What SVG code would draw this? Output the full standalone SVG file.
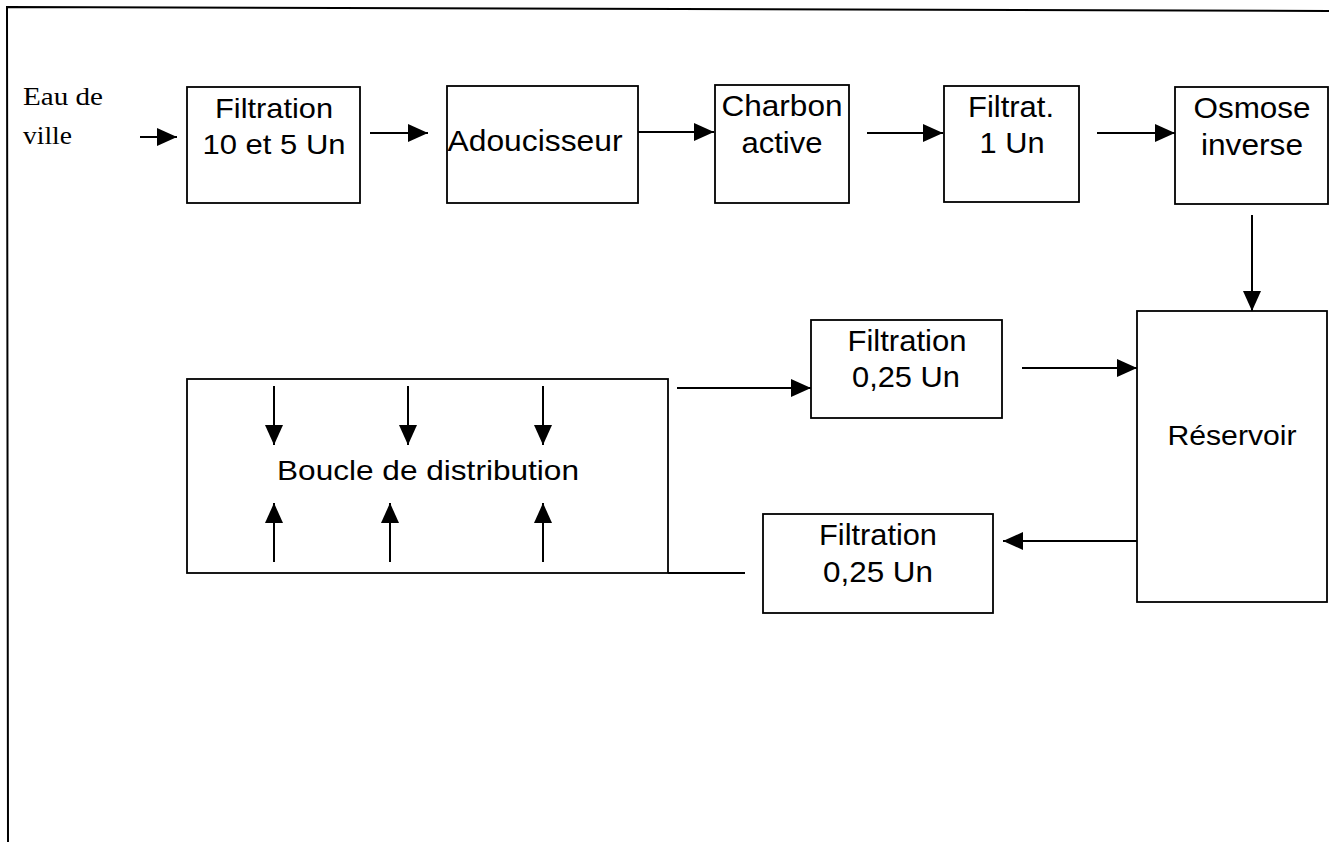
<svg xmlns="http://www.w3.org/2000/svg" width="1329" height="842" viewBox="0 0 1329 842">
<defs>
<style>
.box{fill:#fff;stroke:#000;stroke-width:1.8}
.t{font-family:"Liberation Sans",Arial,sans-serif;font-size:30px;fill:#000;text-anchor:middle}
.s{font-family:"Liberation Serif","Times New Roman",serif;font-size:25px;fill:#000}
.c{stroke:#000;stroke-width:2;fill:none}
.a{marker-end:url(#ah)}
</style>
<marker id="ah" viewBox="0 0 20 18" refX="20" refY="9" markerWidth="20" markerHeight="18" markerUnits="userSpaceOnUse" orient="auto">
<path d="M0,0 L20,9 L0,18 z" fill="#000"/>
</marker>
</defs>
<rect width="1329" height="842" fill="#fff"/>
<polyline id="frame" points="8,842 7,7 1329,11" fill="none" stroke="#000" stroke-width="2"/>

<g id="source">
<text class="s" x="23" y="105" textLength="80" lengthAdjust="spacingAndGlyphs">Eau de</text>
<text class="s" x="23" y="144" textLength="49" lengthAdjust="spacingAndGlyphs">ville</text>
</g>

<g id="filtration-10-5">
<rect class="box" x="187" y="87" width="173" height="116"/>
<text class="t" style="font-size:28px" x="274" y="118" textLength="118" lengthAdjust="spacingAndGlyphs">Filtration</text>
<text class="t" style="font-size:28px" x="274" y="154" textLength="143" lengthAdjust="spacingAndGlyphs">10 et 5 Un</text>
</g>

<g id="adoucisseur">
<rect class="box" x="447" y="86" width="191" height="117"/>
<text class="t" x="535" y="151" textLength="175" lengthAdjust="spacingAndGlyphs">Adoucisseur</text>
</g>

<g id="charbon">
<rect class="box" x="715" y="85" width="134" height="118"/>
<text class="t" x="782" y="116" textLength="121" lengthAdjust="spacingAndGlyphs">Charbon</text>
<text class="t" x="782" y="153" textLength="81" lengthAdjust="spacingAndGlyphs">active</text>
</g>

<g id="filtrat-1">
<rect class="box" x="944" y="86" width="135" height="116"/>
<text class="t" x="1011" y="117" textLength="86" lengthAdjust="spacingAndGlyphs">Filtrat.</text>
<text class="t" x="1012" y="153" textLength="65" lengthAdjust="spacingAndGlyphs">1 Un</text>
</g>

<g id="osmose">
<rect class="box" x="1175" y="87" width="153" height="117"/>
<text class="t" x="1252" y="118" textLength="117" lengthAdjust="spacingAndGlyphs">Osmose</text>
<text class="t" x="1252" y="155" textLength="102" lengthAdjust="spacingAndGlyphs">inverse</text>
</g>

<g id="reservoir">
<rect class="box" x="1137" y="311" width="190" height="291"/>
<text class="t" style="font-size:28px" x="1232" y="445" textLength="129" lengthAdjust="spacingAndGlyphs">Réservoir</text>
</g>

<g id="filtration-025-haut">
<rect class="box" x="811" y="320" width="191" height="98"/>
<text class="t" x="907" y="351" textLength="119" lengthAdjust="spacingAndGlyphs">Filtration</text>
<text class="t" x="906" y="387" textLength="108" lengthAdjust="spacingAndGlyphs">0,25 Un</text>
</g>

<g id="filtration-025-bas">
<rect class="box" x="763" y="514" width="230" height="99"/>
<text class="t" x="878" y="545" textLength="118" lengthAdjust="spacingAndGlyphs">Filtration</text>
<text class="t" x="878" y="582" textLength="110" lengthAdjust="spacingAndGlyphs">0,25 Un</text>
</g>

<g id="boucle">
<rect class="box" x="187" y="379" width="481" height="194"/>
<text class="t" style="font-size:28px" x="428" y="480" textLength="302" lengthAdjust="spacingAndGlyphs">Boucle de distribution</text>
<g class="c">
<line class="a" x1="274" y1="386" x2="274" y2="445"/>
<line class="a" x1="408" y1="386" x2="408" y2="445"/>
<line class="a" x1="543" y1="386" x2="543" y2="445"/>
<line class="a" x1="274" y1="562" x2="274" y2="503"/>
<line class="a" x1="390" y1="562" x2="390" y2="503"/>
<line class="a" x1="543" y1="562" x2="543" y2="503"/>
</g>
</g>

<g id="connectors" class="c">
<line class="a" x1="140" y1="137" x2="177" y2="137"/>
<line class="a" x1="370" y1="133" x2="428" y2="133"/>
<line class="a" x1="638" y1="132" x2="714" y2="132"/>
<line class="a" x1="867" y1="133" x2="943" y2="133"/>
<line class="a" x1="1097" y1="133" x2="1175" y2="133"/>
<line class="a" x1="1252" y1="215" x2="1252" y2="311"/>
<line class="a" x1="677" y1="388" x2="811" y2="388"/>
<line class="a" x1="1022" y1="368" x2="1137" y2="368"/>
<line class="a" x1="1137" y1="541" x2="1003" y2="541"/>
<line x1="668" y1="573" x2="745" y2="573"/>
</g>
</svg>
